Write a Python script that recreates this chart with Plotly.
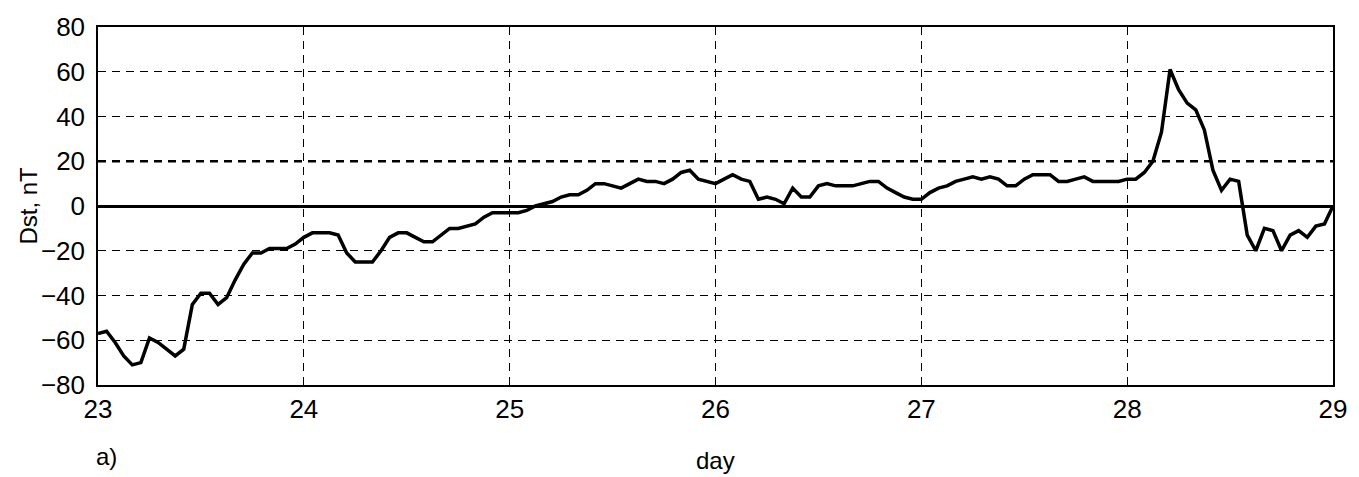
import numpy as np
import plotly.graph_objects as go

# Hourly Dst index, 23 to 29 (hour 0 = start of day 23)
start_day = 23
dst_hourly = [
    -57, -56, -61, -67, -71, -70, -59, -61, -64, -67,   # 0-9
    -64, -44, -39, -39, -44, -41, -33, -26, -21, -21,   # 10-19
    -19, -19, -19, -17, -14, -12, -12, -12, -13, -21,   # 20-29
    -25, -25, -25, -20, -14, -12, -12, -14, -16, -16,   # 30-39
    -13, -10, -10, -9, -8, -5, -3, -3, -3, -3,          # 40-49
    -2, 0, 1, 2, 4, 5, 5, 7, 10, 10,                    # 50-59
    9, 8, 10, 12, 11, 11, 10, 12, 15, 16,               # 60-69
    12, 11, 10, 12, 14, 12, 11, 3, 4, 3,                # 70-79
    1, 8, 4, 4, 9, 10, 9, 9, 9, 10,                     # 80-89
    11, 11, 8, 6, 4, 3, 3, 6, 8, 9,                     # 90-99
    11, 12, 13, 12, 13, 12, 9, 9, 12, 14,               # 100-109
    14, 14, 11, 11, 12, 13, 11, 11, 11, 11,             # 110-119
    12, 12, 15, 20, 33, 61, 52, 46, 43, 34,             # 120-129
    16, 7, 12, 11, -13, -20, -10, -11, -20, -13,        # 130-139
    -11, -14, -9, -8, 0,                                # 140-144
]
day_ticks = [23, 24, 25, 26, 27, 28, 29]
dst_ticks = [-80, -60, -40, -20, 0, 20, 40, 60, 80]

days = start_day + np.arange(len(dst_hourly)) / 24.0

font_family = "Liberation Sans, Arial, sans-serif"

fig = go.Figure()
fig.add_trace(go.Scatter(
    x=days, y=dst_hourly, mode="lines",
    line=dict(color="black", width=3.5),
    showlegend=False, hoverinfo="x+y",
))

# heavier dashed reference level at +20 nT
fig.add_shape(type="line", xref="x", yref="y",
              x0=day_ticks[0], x1=day_ticks[-1], y0=20, y1=20,
              line=dict(color="black", width=2.5, dash="8px,6px"), layer="below")

axis_common = dict(
    showline=True, linecolor="black", linewidth=1.5, mirror=True,
    showgrid=True, gridcolor="black", gridwidth=1, griddash="8px,6px",
    ticks="", tickfont=dict(family=font_family, size=26, color="black"),
)

fig.update_xaxes(
    range=[day_ticks[0], day_ticks[-1]], tickvals=day_ticks,
    zeroline=False, **axis_common,
)
fig.update_yaxes(
    range=[dst_ticks[0], dst_ticks[-1]], tickvals=dst_ticks,
    zeroline=True, zerolinecolor="black", zerolinewidth=3,
    ticklabelstandoff=6, **axis_common,
)

fig.add_annotation(text="Dst, nT", xref="paper", yref="paper",
                   x=-0.057, y=0.5, xanchor="center", yanchor="middle",
                   textangle=-90, showarrow=False,
                   font=dict(family=font_family, size=24, color="black"))
fig.add_annotation(text="day", xref="paper", yref="paper",
                   x=0.5, y=-0.21, xanchor="center", yanchor="middle",
                   showarrow=False,
                   font=dict(family=font_family, size=24, color="black"))
fig.add_annotation(text="a)", xref="paper", yref="paper",
                   x=-0.003, y=-0.2, xanchor="left", yanchor="middle",
                   showarrow=False,
                   font=dict(family=font_family, size=24, color="black"))

fig.update_layout(
    width=1359, height=477,
    margin=dict(l=98, r=26, t=20, b=92),
    paper_bgcolor="white", plot_bgcolor="white",
    showlegend=False,
)

fig.write_html("out.html")
